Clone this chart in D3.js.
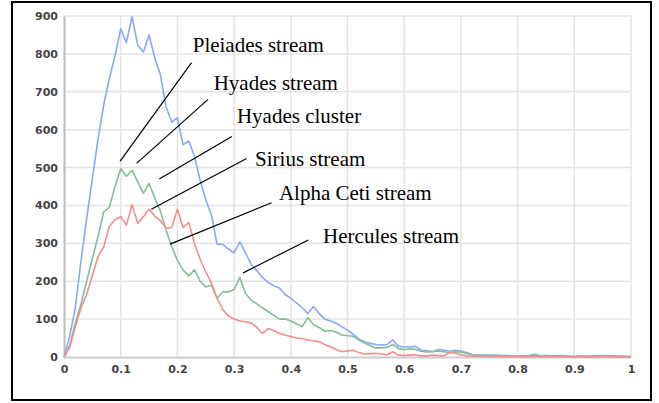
<!DOCTYPE html>
<html>
<head>
<meta charset="utf-8">
<script src="https://cdn.jsdelivr.net/npm/d3@7"></script>
<style>
  body { margin: 0; background: #fff; }
  .tick text { font-family: "DejaVu Sans", Verdana, sans-serif; font-size: 11px; font-weight: bold; fill: #444; }
  .label { font-family: "Liberation Serif", "Times New Roman", serif; font-size: 21px; fill: #000; }
</style>
</head>
<body>
<div id="chart"></div>
<script>
// x values every 0.01 from 0 to 1
const xs = d3.range(0, 101).map(i => i / 100);

const blueVals = [
  0, 55, 130, 255, 365, 470, 575, 665, 735, 795,
  866, 830, 898, 823, 805, 850, 790, 745, 660, 620,
  632, 560, 570, 530, 467, 415, 375, 298, 297, 285,
  275, 304, 275, 245, 228, 210, 197, 188, 182, 165,
  155, 143, 130, 115, 133, 115, 100, 95, 89, 80,
  71, 60, 47, 40, 36, 33, 32, 33, 45, 28,
  27, 27, 28, 18, 17, 14, 20, 18, 16, 18,
  16, 12, 6, 5, 5, 5, 5, 4, 4, 3,
  2, 3, 4, 7, 3, 4, 3, 3, 4, 2,
  1, 3, 2, 2, 3, 4, 3, 3, 2, 2, 1
];

const greenVals = [
  0, 30, 90, 140, 200, 260, 318, 383, 395, 450,
  497, 477, 493, 463, 432, 458, 420, 385, 335, 291,
  255, 230, 214, 230, 200, 185, 190, 155, 172, 172,
  178, 210, 168, 150, 140, 130, 120, 110, 100, 100,
  95, 88, 80, 104, 85, 78, 68, 70, 66, 58,
  56, 55, 45, 37, 30, 24, 24, 26, 33, 22,
  20, 22, 20, 15, 13, 14, 16, 14, 12, 14,
  13, 9, 5, 4, 4, 3, 4, 3, 3, 2,
  2, 2, 3, 5, 2, 3, 2, 2, 3, 2,
  1, 2, 2, 1, 2, 3, 2, 2, 1, 1, 1
];

const redVals = [
  0, 25, 80, 130, 165, 215, 265, 290, 345, 362,
  370, 348, 402, 353, 370, 390, 372, 360, 340, 342,
  390, 342, 355, 300, 258, 225, 195, 155, 125, 108,
  100, 95, 93, 90, 78, 62, 75, 70, 62, 58,
  54, 50, 49, 45, 43, 40, 33, 27, 20, 14,
  16, 18, 12, 8, 9, 10, 8, 6, 14, 5,
  4, 5, 6, 3, 3, 5, 4, 3, 12, 10,
  6, 3, 2, 2, 2, 1, 2, 1, 1, 1,
  1, 1, 1, 2, 1, 1, 1, 1, 1, 1,
  0, 1, 1, 1, 1, 1, 1, 1, 1, 1, 0
];

const seriesColors = ["#8aa8f8", "#80bf98", "#f68c8c"];

const yTicks = [0, 100, 200, 300, 400, 500, 600, 700, 800, 900];
const xTicks = [0, 0.1, 0.2, 0.3, 0.4, 0.5, 0.6, 0.7, 0.8, 0.9, 1];

// annotation labels: text, label anchor (data units), leader line ends (data units)
const labelNames = ["Pleiades stream", "Hyades stream", "Hyades cluster", "Sirius stream", "Alpha Ceti stream", "Hercules stream"];
const labelPos = [[0.227, 805], [0.264, 705], [0.305, 617], [0.337, 504], [0.379, 415], [0.457, 302]];
const lineFrom = [[0.225, 777], [0.254, 680], [0.296, 582], [0.322, 524], [0.366, 407], [0.431, 309]];
const lineTo = [[0.099, 517], [0.128, 511], [0.168, 470], [0.154, 390], [0.187, 298], [0.316, 222]];

const width = 659, height = 403;

const svg = d3.select("#chart").append("svg")
    .attr("width", width)
    .attr("height", height);

const x = d3.scaleLinear().domain([0, 1]).range([64, 631]);
const y = d3.scaleLinear().domain([0, 900]).range([357, 16]);

// gridlines
svg.append("g").selectAll("line")
    .data(xTicks.slice(1)).enter().append("line")
    .attr("x1", d => x(d)).attr("x2", d => x(d))
    .attr("y1", y(0)).attr("y2", y(900))
    .attr("stroke", "#e4e4e4").attr("stroke-width", 1.5);

svg.append("g").selectAll("line")
    .data(yTicks.slice(1)).enter().append("line")
    .attr("x1", x(0)).attr("x2", x(1))
    .attr("y1", d => y(d)).attr("y2", d => y(d))
    .attr("stroke", "#e4e4e4").attr("stroke-width", 1.5);

// axes
const yAxis = svg.append("g")
    .attr("transform", `translate(${x(0)},0)`)
    .call(d3.axisLeft(y).tickValues(yTicks).tickSize(0).tickPadding(6));
yAxis.select(".domain").attr("stroke", "#bbbbbb").attr("stroke-width", 2);

const xAxis = svg.append("g")
    .attr("transform", `translate(0,${y(0)})`)
    .call(d3.axisBottom(x).tickValues(xTicks).tickSize(0).tickPadding(8)
        .tickFormat(d3.format("~g")));
xAxis.select(".domain").attr("stroke", "#cccccc").attr("stroke-width", 2);

// series
const line = d3.line()
    .x((d, i) => x(xs[i]))
    .y(d => y(d));

[blueVals, greenVals, redVals].forEach((vals, k) => {
    svg.append("path")
        .datum(vals)
        .attr("fill", "none")
        .attr("stroke", seriesColors[k])
        .attr("stroke-width", 1.6)
        .attr("stroke-linejoin", "round")
        .attr("d", line);
});

// annotations
labelNames.forEach((name, i) => {
    svg.append("line")
        .attr("x1", x(lineFrom[i][0])).attr("y1", y(lineFrom[i][1]))
        .attr("x2", x(lineTo[i][0])).attr("y2", y(lineTo[i][1]))
        .attr("stroke", "#000").attr("stroke-width", 1.2);
    svg.append("text")
        .attr("class", "label")
        .attr("x", x(labelPos[i][0]))
        .attr("y", y(labelPos[i][1]))
        .text(name);
});

// outer border
svg.append("rect")
    .attr("x", 12).attr("y", 2)
    .attr("width", 639).attr("height", 398)
    .attr("fill", "none")
    .attr("stroke", "#000")
    .attr("stroke-width", 2);
</script>
</body>
</html>
